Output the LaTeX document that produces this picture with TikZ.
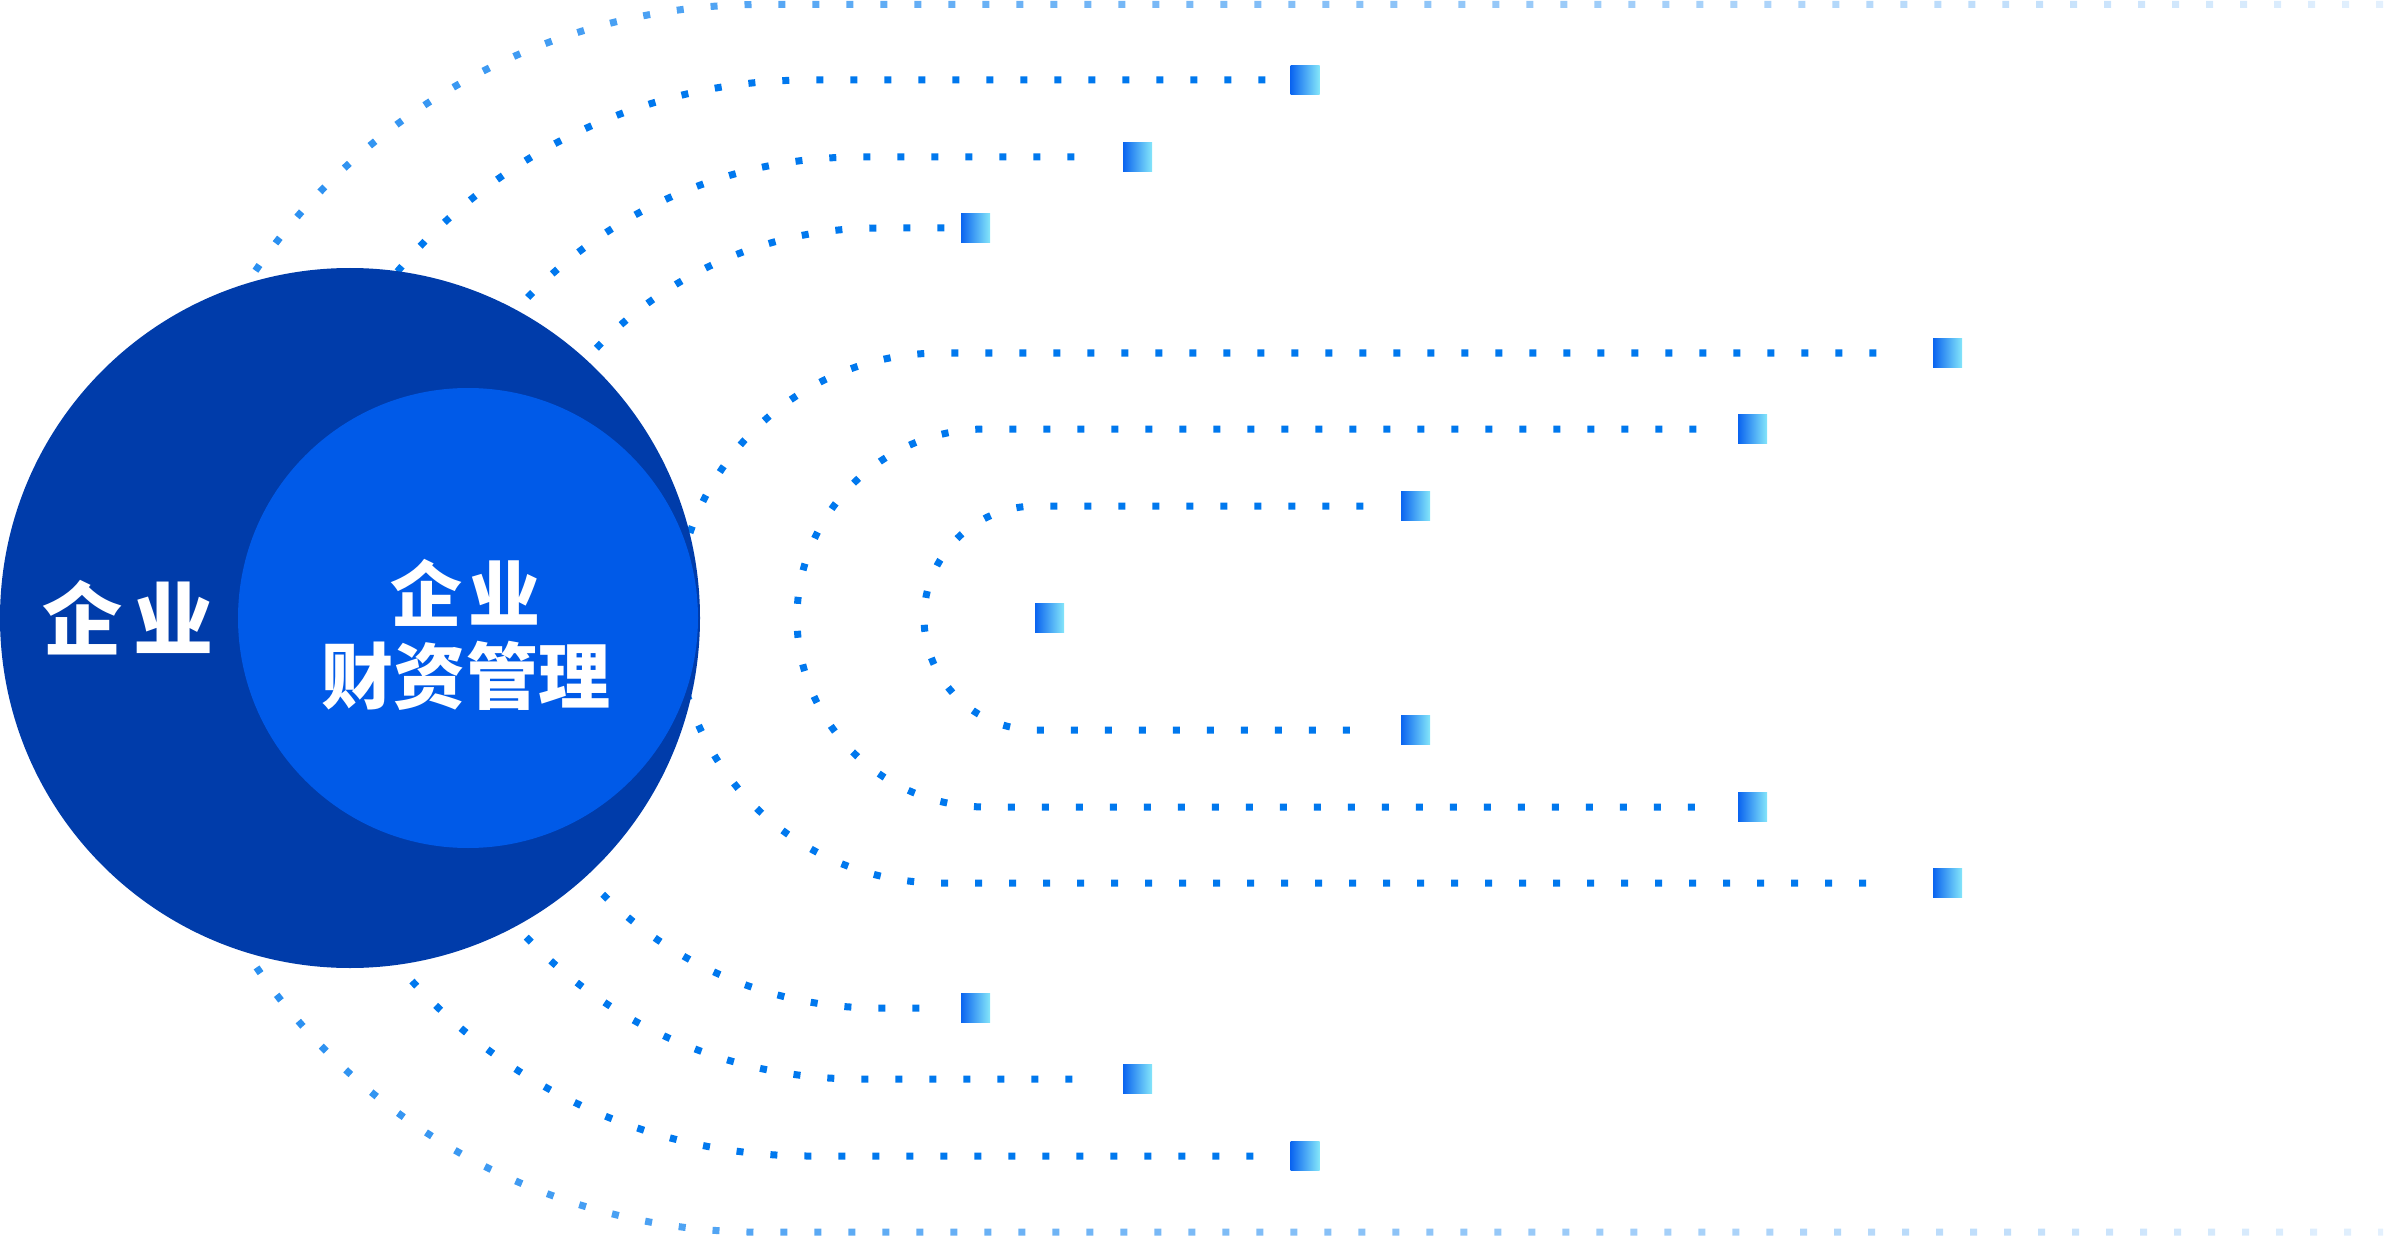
\documentclass[tikz,border=0pt]{standalone}
\usepackage{fontspec}
\newfontfamily\cjk{Noto Sans CJK SC}
\usepackage{xcolor}
\usetikzlibrary{fadings}

\definecolor{deepblue}{HTML}{003CAA}
\definecolor{midblue}{HTML}{005AE8}
\definecolor{dotblue}{HTML}{0078EE}
\definecolor{edgeblue}{HTML}{1F8AF0}
\definecolor{tipleft}{HTML}{0A64F0}
\definecolor{tipright}{HTML}{84E6FA}

\tikzfading[name=fadeout, left color=transparent!0, right color=transparent!88]

\tikzset{
  dotline/.style={dotblue, line width=0.07cm, dash pattern=on 0.07cm off 0.27cm},
  tip/.style={inner sep=0pt, minimum size=0.29cm, left color=tipleft, right color=tipright},
  disc/.style={circle, inner sep=0pt}
}

\begin{document}
\begin{tikzpicture}
  \useasboundingbox (0,-6.2) rectangle (23.84,6.18);
  % end squares, top and bottom of each loop
  \node[tip] (t1) at (13.05,5.38) {};
  \node[tip] (b1) at (13.05,-5.38) {};
  \node[tip] (t2) at (11.375,4.61) {};
  \node[tip] (b2) at (11.375,-4.61) {};
  \node[tip] (t3) at (9.755,3.90) {};
  \node[tip] (b3) at (9.755,-3.90) {};
  \node[tip] (t4) at (19.475,2.65) {};
  \node[tip] (b4) at (19.475,-2.65) {};
  \node[tip] (t5) at (17.525,1.89) {};
  \node[tip] (b5) at (17.525,-1.89) {};
  \node[tip] (t6) at (14.155,1.12) {};
  \node[tip] (b6) at (14.155,-1.12) {};
  \node[tip] (core) at (10.495,0) {};

  % dotted loops
  \draw[dotline] ([xshift=-0.245cm]t1.west) -- (8.09,5.38) arc[start angle=90, end angle=270, radius=5.38] -- ([xshift=-0.245cm]b1.west);
  \draw[dotline] ([xshift=-0.48cm]t2.west) -- (8.59,4.61) arc[start angle=90, end angle=270, radius=4.61] -- ([xshift=-0.48cm]b2.west);
  \draw[dotline] ([xshift=-0.16cm]t3.west) -- (8.78,3.90) arc[start angle=90, end angle=270, radius=3.90] -- ([xshift=-0.16cm]b3.west);
  \draw[dotline] ([xshift=-0.56cm]t4.west) -- (9.41,2.65) arc[start angle=90, end angle=270, radius=2.65] -- ([xshift=-0.56cm]b4.west);
  \draw[dotline] ([xshift=-0.41cm]t5.west) -- (9.86,1.89) arc[start angle=90, end angle=270, radius=1.89] -- ([xshift=-0.41cm]b5.west);
  \draw[dotline] ([xshift=-0.37cm]t6.west) -- (10.36,1.12) arc[start angle=90, end angle=270, radius=1.12] -- ([xshift=-0.37cm]b6.west);

  % outermost loop fades out to the right
  \coordinate (rimtop) at (23.84,6.14);
  \coordinate (rimbot) at (23.84,-6.14);
  \draw[dotline, edgeblue, path fading=fadeout] (rimtop) -- (7.62,6.14) arc[start angle=90, end angle=270, radius=6.14] -- (rimbot);

  % circles
  \node[disc, fill=deepblue, minimum size=7cm] (firm) at (3.5,0) {};
  \node[disc, fill=midblue, minimum size=4.6cm] (fin) at (4.68,0) {};
  \node[text=white, font=\cjk\bfseries\fontsize{22.8pt}{27pt}\selectfont] (firmtxt) at (1.28,0) {企\hspace{0.11cm}业};
  \node[text=white, align=center, font=\cjk\bfseries\fontsize{20.5pt}{23.4pt}\selectfont] (fintxt) at (4.66,-0.165) {企\hspace{0.06cm}业\\财资管理};
\end{tikzpicture}
\end{document}
